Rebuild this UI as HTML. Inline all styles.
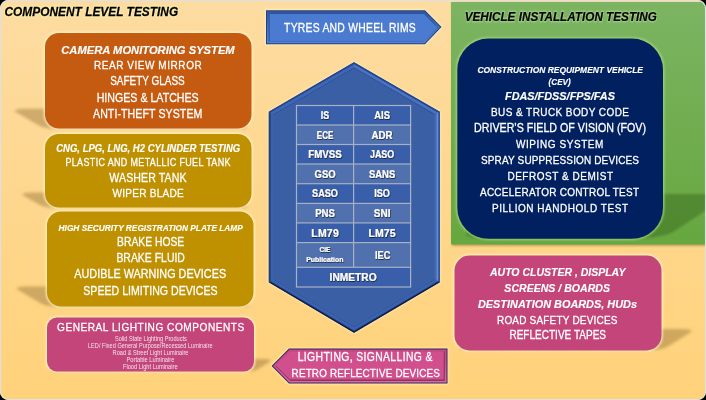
<!DOCTYPE html>
<html><head><meta charset="utf-8"><style>
html,body{margin:0;padding:0;background:#000;width:706px;height:400px;overflow:hidden}
svg{display:block;will-change:transform;font-family:"Liberation Sans", sans-serif}
</style></head><body>
<svg width="706" height="400" viewBox="0 0 706 400">
<defs>
<linearGradient id="bg" x1="0" y1="0" x2="0" y2="1"><stop offset="0" stop-color="#FDDCA2"/><stop offset="1" stop-color="#FFD27A"/></linearGradient>
<linearGradient id="gg" x1="0" y1="0" x2="0" y2="1"><stop offset="0" stop-color="#7CB462"/><stop offset="1" stop-color="#67A73F"/></linearGradient>
<linearGradient id="bab" x1="0" y1="0" x2="0" y2="1"><stop offset="0" stop-color="#3357A4"/><stop offset="0.5" stop-color="#4270C4"/><stop offset="1" stop-color="#5283D8"/></linearGradient>
<linearGradient id="pab" x1="0" y1="0" x2="0" y2="1"><stop offset="0" stop-color="#C44886"/><stop offset="0.5" stop-color="#CF5290"/><stop offset="1" stop-color="#E06AA6"/></linearGradient>
<linearGradient id="hxo" x1="0" y1="0" x2="0" y2="1"><stop offset="0" stop-color="#2A4C96"/><stop offset="0.6" stop-color="#254690"/><stop offset="1" stop-color="#0C1842"/></linearGradient>
<linearGradient id="hxb" x1="0" y1="0" x2="1" y2="0"><stop offset="0" stop-color="#3C63B0"/><stop offset="0.85" stop-color="#4670BE"/><stop offset="1" stop-color="#5C88D4"/></linearGradient>
<filter id="bl1" x="-10%" y="-30%" width="120%" height="160%"><feGaussianBlur stdDeviation="0.8"/></filter>
<filter id="bl" x="-20%" y="-50%" width="140%" height="200%"><feGaussianBlur stdDeviation="1.6"/></filter>
<filter id="ts" x="-20%" y="-30%" width="140%" height="160%"><feDropShadow dx="0.6" dy="0.8" stdDeviation="0.5" flood-color="#000" flood-opacity="0.7"/></filter>
<filter id="glow" x="-5%" y="-30%" width="110%" height="160%"><feMorphology in="SourceAlpha" operator="dilate" radius="0.8" result="d"/><feGaussianBlur in="d" stdDeviation="0.6" result="b"/><feFlood flood-color="#FFF7B0" flood-opacity="0.9"/><feComposite in2="b" operator="in" result="g"/><feMerge><feMergeNode in="g"/><feMergeNode in="SourceGraphic"/></feMerge></filter>
</defs>
<rect x="0" y="0" width="706" height="400" rx="8.5" ry="8.5" fill="url(#bg)"/>
<clipPath id="frame"><rect x="0" y="0" width="706" height="400" rx="8.5" ry="8.5"/></clipPath>
<g clip-path="url(#frame)">
<g filter="url(#bl)"><g transform="translate(0,129) matrix(1,0,1.72,1,0,0) scale(1,0.21) translate(0,-129)"><rect x="45" y="33" width="206.5" height="96" rx="14" ry="14" fill="rgba(140,105,45,0.42)"/></g></g>
<g filter="url(#bl)"><g transform="translate(0,208) matrix(1,0,1.72,1,0,0) scale(1,0.21) translate(0,-208)"><rect x="45" y="134" width="206.5" height="74" rx="14" ry="14" fill="rgba(140,105,45,0.42)"/></g></g>
<g filter="url(#bl)"><g transform="translate(0,307) matrix(1,0,1.68,1,0,0) scale(1,0.215) translate(0,-307)"><rect x="47" y="211.5" width="206.5" height="95.5" rx="14" ry="14" fill="rgba(140,105,45,0.42)"/></g></g>
<rect x="452" y="3.5" width="254" height="242.5" fill="rgba(120,90,40,0.45)" filter="url(#bl1)"/>
<rect x="451" y="2" width="255" height="242.5" fill="url(#gg)"/>
<g filter="url(#bl1)"><g transform="translate(0,238.8) matrix(1,0,-1.5,1,0,0) scale(1,0.224) translate(0,-238.8)"><rect x="457.3" y="38.6" width="205.7" height="200.20000000000002" rx="31" ry="31" fill="rgba(45,95,25,0.42)"/></g></g>
<g filter="url(#bl)"><g transform="translate(0,350.5) matrix(1,0,-1.6,1,0,0) scale(1,0.226) translate(0,-350.5)"><rect x="454.5" y="255.5" width="207.0" height="95.0" rx="15" ry="15" fill="rgba(140,105,45,0.42)"/></g></g>
<g filter="url(#bl)"><g transform="translate(0,371.5) matrix(1,0,-1.6,1,0,0) scale(1,0.23) translate(0,-371.5)"><rect x="47" y="317.5" width="207" height="54.0" rx="10" ry="10" fill="rgba(140,105,45,0.42)"/></g></g>
<rect x="45" y="33" width="206.5" height="95.5" rx="14" ry="14" fill="none" stroke="rgba(255,248,205,0.95)" stroke-width="2.2" filter="url(#bl1)"/>
<rect x="45" y="134" width="206.5" height="73.5" rx="14" ry="14" fill="none" stroke="rgba(255,248,205,0.95)" stroke-width="2.2" filter="url(#bl1)"/>
<rect x="47" y="211.5" width="206.5" height="95.0" rx="14" ry="14" fill="none" stroke="rgba(255,248,205,0.95)" stroke-width="2.2" filter="url(#bl1)"/>
<rect x="47" y="317.5" width="207" height="54.0" rx="10" ry="10" fill="none" stroke="rgba(255,248,205,0.95)" stroke-width="2.2" filter="url(#bl1)"/>
<rect x="454.5" y="255.5" width="207.0" height="95.0" rx="15" ry="15" fill="none" stroke="rgba(255,248,205,0.95)" stroke-width="2.2" filter="url(#bl1)"/>
<rect x="45" y="33" width="206.5" height="95.5" rx="14" ry="14" fill="#C55A11" />
<rect x="45" y="134" width="206.5" height="73.5" rx="14" ry="14" fill="#BF9000" />
<rect x="47" y="211.5" width="206.5" height="95.0" rx="14" ry="14" fill="#BF9000" />
<rect x="47" y="317.5" width="207" height="54.0" rx="10" ry="10" fill="#C3457A" />
<rect x="454.5" y="255.5" width="207.0" height="95.0" rx="15" ry="15" fill="#C3457A" />
<rect x="457.3" y="38.6" width="205.7" height="200.20000000000002" rx="31" ry="31" fill="none" stroke="rgba(170,220,130,0.9)" stroke-width="2.4" filter="url(#bl1)"/>
<rect x="457.3" y="38.6" width="205.7" height="200.20000000000002" rx="31" ry="31" fill="#00205F" />
<polygon points="265.10,9.30 425.38,9.30 442.75,26.99 425.38,45.10 265.10,45.10" fill="rgba(255,250,200,0.6)" filter="url(#bl1)"/>
<polygon points="266.00,10.20 425.00,10.20 441.50,27.00 425.00,44.20 266.00,44.20" fill="#22407E"/>
<polygon points="267.00,11.20 424.58,11.20 440.11,27.01 424.57,43.20 267.00,43.20" fill="url(#bab)"/>
<polygon points="268.60,12.80 423.91,12.80 437.88,27.02 423.89,41.60 268.60,41.60" fill="#2D5299"/>
<g transform="translate(0.4,0.5)"><polygon points="269.30,13.50 423.62,13.50 436.90,27.03 423.59,40.90 269.30,40.90" fill="#4B7BD1"/></g>
<polygon points="270.33,366.00 288.63,347.70 448.40,347.70 448.40,384.40 288.63,384.40" fill="rgba(255,250,200,0.6)" filter="url(#bl1)"/>
<polygon points="271.60,366.00 289.00,348.60 447.50,348.60 447.50,383.50 289.00,383.50" fill="#33235C"/>
<polygon points="273.01,366.00 289.41,349.60 446.50,349.60 446.50,382.50 289.42,382.50" fill="url(#pab)"/>
<polygon points="275.27,366.01 290.08,351.20 444.90,351.20 444.90,380.90 290.08,380.90" fill="#8C3468"/>
<g transform="translate(-0.5,-0.6)"><polygon points="276.26,366.01 290.37,351.90 444.20,351.90 444.20,380.20 290.37,380.20" fill="#D24F8D"/></g>
<polygon points="354.00,61.38 440.60,111.34 440.60,282.76 354.00,333.63 268.00,282.76 268.00,111.34" fill="rgba(255,250,200,0.5)" filter="url(#bl1)"/>
<polygon points="354.00,62.30 439.80,111.80 439.80,282.30 354.00,332.70 268.80,282.30 268.80,111.80" fill="#3A5FA5"/>
<linearGradient id="hf0" gradientUnits="userSpaceOnUse" x1="396.90" y1="87.05" x2="393.90" y2="92.25"><stop offset="0" stop-color="#1E3C88"/><stop offset="0.25" stop-color="#2A4E9C"/><stop offset="0.3" stop-color="#4570C0"/><stop offset="0.55" stop-color="#4A76C4"/><stop offset="0.7" stop-color="#4068B4"/><stop offset="0.8" stop-color="#2C4C92"/><stop offset="0.9" stop-color="#3A5FA5"/><stop offset="1" stop-color="#3A5FA5"/></linearGradient>
<polygon points="354.00,62.30 439.80,111.80 433.80,115.27 354.01,69.23" fill="url(#hf0)"/>
<linearGradient id="hf1" gradientUnits="userSpaceOnUse" x1="439.80" y1="197.05" x2="433.80" y2="197.05"><stop offset="0" stop-color="#22448F"/><stop offset="0.25" stop-color="#3A64B8"/><stop offset="0.35" stop-color="#6290D8"/><stop offset="0.5" stop-color="#5A86D0"/><stop offset="0.6" stop-color="#4469B2"/><stop offset="0.95" stop-color="#3F64AB"/><stop offset="1" stop-color="#3A5FA5"/></linearGradient>
<polygon points="439.80,111.80 439.80,282.30 433.80,278.87 433.80,115.27" fill="url(#hf1)"/>
<linearGradient id="hf2" gradientUnits="userSpaceOnUse" x1="396.90" y1="307.50" x2="393.86" y2="302.33"><stop offset="0" stop-color="#060C28"/><stop offset="0.18" stop-color="#132658"/><stop offset="0.38" stop-color="#3760AE"/><stop offset="0.72" stop-color="#3C64B2"/><stop offset="0.8" stop-color="#2F5196"/><stop offset="0.88" stop-color="#3A5FA5"/><stop offset="1" stop-color="#3A5FA5"/></linearGradient>
<polygon points="439.80,282.30 354.00,332.70 354.01,325.74 433.80,278.87" fill="url(#hf2)"/>
<linearGradient id="hf3" gradientUnits="userSpaceOnUse" x1="311.40" y1="307.50" x2="314.45" y2="302.34"><stop offset="0" stop-color="#060C28"/><stop offset="0.18" stop-color="#132658"/><stop offset="0.38" stop-color="#3760AE"/><stop offset="0.72" stop-color="#3C64B2"/><stop offset="0.8" stop-color="#2F5196"/><stop offset="0.88" stop-color="#3A5FA5"/><stop offset="1" stop-color="#3A5FA5"/></linearGradient>
<polygon points="354.00,332.70 268.80,282.30 274.80,278.88 354.01,325.74" fill="url(#hf3)"/>
<linearGradient id="hf4" gradientUnits="userSpaceOnUse" x1="268.80" y1="197.05" x2="274.80" y2="197.05"><stop offset="0" stop-color="#22386A"/><stop offset="0.3" stop-color="#2C4A88"/><stop offset="0.35" stop-color="#3A62AD"/><stop offset="0.75" stop-color="#3A62AD"/><stop offset="0.85" stop-color="#3357A0"/><stop offset="0.95" stop-color="#3A5FA5"/><stop offset="1" stop-color="#3A5FA5"/></linearGradient>
<polygon points="268.80,282.30 268.80,111.80 274.80,115.25 274.80,278.88" fill="url(#hf4)"/>
<linearGradient id="hf5" gradientUnits="userSpaceOnUse" x1="311.40" y1="87.05" x2="314.41" y2="92.24"><stop offset="0" stop-color="#1E3C88"/><stop offset="0.25" stop-color="#2A4E9C"/><stop offset="0.3" stop-color="#3D66B6"/><stop offset="0.7" stop-color="#3E66B4"/><stop offset="0.8" stop-color="#2C4C92"/><stop offset="0.9" stop-color="#3A5FA5"/><stop offset="1" stop-color="#3A5FA5"/></linearGradient>
<polygon points="268.80,111.80 354.00,62.30 354.01,69.23 274.80,115.25" fill="url(#hf5)"/>
<rect x="296.5" y="105.5" width="114.10000000000002" height="19.5" fill="#395EAA"/>
<rect x="296.5" y="125" width="114.10000000000002" height="19.5" fill="#5071AE"/>
<rect x="296.5" y="144.5" width="114.10000000000002" height="19.5" fill="#395EAA"/>
<rect x="296.5" y="164" width="114.10000000000002" height="19.69999999999999" fill="#5071AE"/>
<rect x="296.5" y="183.7" width="114.10000000000002" height="19.700000000000017" fill="#395EAA"/>
<rect x="296.5" y="203.4" width="114.10000000000002" height="19.5" fill="#5071AE"/>
<rect x="296.5" y="222.9" width="114.10000000000002" height="19.69999999999999" fill="#395EAA"/>
<rect x="296.5" y="242.6" width="114.10000000000002" height="24.700000000000017" fill="#5071AE"/>
<rect x="296.5" y="267.3" width="114.10000000000002" height="19.69999999999999" fill="#395EAA"/>
<rect x="295.9" y="104.9" width="115.30000000000003" height="1.2" fill="#A7B1C4"/>
<rect x="295.9" y="124.4" width="115.30000000000003" height="1.2" fill="#A7B1C4"/>
<rect x="295.9" y="143.9" width="115.30000000000003" height="1.2" fill="#A7B1C4"/>
<rect x="295.9" y="163.4" width="115.30000000000003" height="1.2" fill="#A7B1C4"/>
<rect x="295.9" y="183.1" width="115.30000000000003" height="1.2" fill="#A7B1C4"/>
<rect x="295.9" y="202.8" width="115.30000000000003" height="1.2" fill="#A7B1C4"/>
<rect x="295.9" y="222.3" width="115.30000000000003" height="1.2" fill="#A7B1C4"/>
<rect x="295.9" y="242.0" width="115.30000000000003" height="1.2" fill="#A7B1C4"/>
<rect x="295.9" y="266.7" width="115.30000000000003" height="1.2" fill="#A7B1C4"/>
<rect x="295.9" y="286.4" width="115.30000000000003" height="1.2" fill="#A7B1C4"/>
<rect x="295.9" y="105.5" width="1.2" height="181.5" fill="#A7B1C4"/>
<rect x="410.0" y="105.5" width="1.2" height="181.5" fill="#A7B1C4"/>
<rect x="353.0" y="105.5" width="1.2" height="161.8" fill="#A7B1C4"/>
<text transform="scale(0.8048,1)" x="398.66" y="119.2" font-size="11.05" font-weight="bold" font-style="normal" fill="#fff" textLength="10.44" lengthAdjust="spacing" filter="url(#ts)" stroke="#fff" stroke-width="0.15">IS</text>
<text transform="scale(0.8526,1)" x="438.95" y="119.2" font-size="11.05" font-weight="bold" font-style="normal" fill="#fff" textLength="18.41" lengthAdjust="spacing" filter="url(#ts)" stroke="#fff" stroke-width="0.15">AIS</text>
<text transform="scale(0.7309,1)" x="433.38" y="138.7" font-size="11.05" font-weight="bold" font-style="normal" fill="#fff" textLength="22.71" lengthAdjust="spacing" filter="url(#ts)" stroke="#fff" stroke-width="0.15">ECE</text>
<text transform="scale(0.8775,1)" x="423.47" y="138.7" font-size="11.05" font-weight="bold" font-style="normal" fill="#fff" textLength="23.93" lengthAdjust="spacing" filter="url(#ts)" stroke="#fff" stroke-width="0.15">ADR</text>
<text transform="scale(0.8804,1)" x="350.19" y="158.2" font-size="11.05" font-weight="bold" font-style="normal" fill="#fff" textLength="38.05" lengthAdjust="spacing" filter="url(#ts)" stroke="#fff" stroke-width="0.15">FMVSS</text>
<text transform="scale(0.8045,1)" x="459.90" y="158.2" font-size="11.05" font-weight="bold" font-style="normal" fill="#fff" textLength="30.08" lengthAdjust="spacing" filter="url(#ts)" stroke="#fff" stroke-width="0.15">JASO</text>
<text transform="scale(0.8553,1)" x="367.76" y="177.7" font-size="11.05" font-weight="bold" font-style="normal" fill="#fff" textLength="24.55" lengthAdjust="spacing" filter="url(#ts)" stroke="#fff" stroke-width="0.15">GSO</text>
<text transform="scale(0.8570,1)" x="430.53" y="177.7" font-size="11.05" font-weight="bold" font-style="normal" fill="#fff" textLength="30.69" lengthAdjust="spacing" filter="url(#ts)" stroke="#fff" stroke-width="0.15">SANS</text>
<text transform="scale(0.8273,1)" x="377.23" y="197.4" font-size="11.05" font-weight="bold" font-style="normal" fill="#fff" textLength="31.30" lengthAdjust="spacing" filter="url(#ts)" stroke="#fff" stroke-width="0.15">SASO</text>
<text transform="scale(0.8198,1)" x="456.59" y="197.4" font-size="11.05" font-weight="bold" font-style="normal" fill="#fff" textLength="19.03" lengthAdjust="spacing" filter="url(#ts)" stroke="#fff" stroke-width="0.15">ISO</text>
<text transform="scale(0.8674,1)" x="363.40" y="217.1" font-size="11.05" font-weight="bold" font-style="normal" fill="#fff" textLength="22.71" lengthAdjust="spacing" filter="url(#ts)" stroke="#fff" stroke-width="0.15">PNS</text>
<text transform="scale(0.9015,1)" x="414.65" y="217.1" font-size="11.05" font-weight="bold" font-style="normal" fill="#fff" textLength="18.41" lengthAdjust="spacing" filter="url(#ts)" stroke="#fff" stroke-width="0.15">SNI</text>
<text transform="scale(0.9500,1)" x="327.74" y="236.6" font-size="11.05" font-weight="bold" font-style="normal" fill="#fff" textLength="28.84" lengthAdjust="spacing" filter="url(#ts)" stroke="#fff" stroke-width="0.15">LM79</text>
<text transform="scale(0.9500,1)" x="388.00" y="236.6" font-size="11.05" font-weight="bold" font-style="normal" fill="#fff" textLength="28.42" lengthAdjust="spacing" filter="url(#ts)" stroke="#fff" stroke-width="0.15">LM75</text>
<text transform="scale(0.8902,1)" x="358.91" y="252.5" font-size="7.41" font-weight="bold" font-style="normal" fill="#fff" textLength="12.36" lengthAdjust="spacing" filter="url(#ts)" stroke="#fff" stroke-width="0.15">CIE</text>
<text transform="scale(0.8961,1)" x="341.72" y="261.9" font-size="7.70" font-weight="bold" font-style="normal" fill="#fff" textLength="41.51" lengthAdjust="spacing" filter="url(#ts)" stroke="#fff" stroke-width="0.15">Publication</text>
<text transform="scale(0.8363,1)" x="448.40" y="259.0" font-size="11.05" font-weight="bold" font-style="normal" fill="#fff" textLength="18.41" lengthAdjust="spacing" filter="url(#ts)" stroke="#fff" stroke-width="0.15">IEC</text>
<text transform="scale(0.8991,1)" x="366.58" y="280.9" font-size="11.34" font-weight="bold" font-style="normal" fill="#fff" textLength="52.27" lengthAdjust="spacing" filter="url(#ts)" stroke="#fff" stroke-width="0.15">INMETRO</text>
<text transform="scale(0.9867,1)" x="62.12" y="53.6" font-size="11.34" font-weight="bold" font-style="italic" fill="#fff" textLength="175.73" lengthAdjust="spacing"  stroke="#fff" stroke-width="0.15">CAMERA MONITORING SYSTEM</text>
<text transform="scale(0.8600,1)" x="109.19" y="69.4" font-size="11.63" font-weight="normal" font-style="normal" fill="#fff" textLength="125.35" lengthAdjust="spacing"  stroke="#fff" stroke-width="0.3">REAR VIEW MIRROR</text>
<text transform="scale(0.8057,1)" x="136.77" y="85.5" font-size="12.35" font-weight="normal" font-style="normal" fill="#fff" textLength="92.46" lengthAdjust="spacing"  stroke="#fff" stroke-width="0.3">SAFETY GLASS</text>
<text transform="scale(0.8505,1)" x="113.70" y="101.6" font-size="12.50" font-weight="normal" font-style="normal" fill="#fff" textLength="119.93" lengthAdjust="spacing"  stroke="#fff" stroke-width="0.3">HINGES &amp; LATCHES</text>
<text transform="scale(0.8600,1)" x="108.14" y="117.7" font-size="12.35" font-weight="normal" font-style="normal" fill="#fff" textLength="127.21" lengthAdjust="spacing"  stroke="#fff" stroke-width="0.3">ANTI-THEFT SYSTEM</text>
<text transform="scale(0.9354,1)" x="60.08" y="151.8" font-size="10.17" font-weight="bold" font-style="italic" fill="#fff" textLength="196.72" lengthAdjust="spacing"  stroke="#fff" stroke-width="0.15">CNG, LPG, LNG, H2 CYLINDER TESTING</text>
<text transform="scale(0.8600,1)" x="76.05" y="166.0" font-size="10.47" font-weight="normal" font-style="normal" fill="#fff" textLength="191.98" lengthAdjust="spacing"  stroke="#fff" stroke-width="0.3">PLASTIC AND METALLIC FUEL TANK</text>
<text transform="scale(0.8600,1)" x="127.09" y="181.9" font-size="12.35" font-weight="normal" font-style="normal" fill="#fff" textLength="89.88" lengthAdjust="spacing"  stroke="#fff" stroke-width="0.3">WASHER TANK</text>
<text transform="scale(0.8600,1)" x="130.93" y="197.3" font-size="11.77" font-weight="normal" font-style="normal" fill="#fff" textLength="82.79" lengthAdjust="spacing"  stroke="#fff" stroke-width="0.3">WIPER BLADE</text>
<text transform="scale(0.8533,1)" x="68.68" y="231.2" font-size="9.74" font-weight="bold" font-style="italic" fill="#fff" textLength="215.87" lengthAdjust="spacing"  stroke="#fff" stroke-width="0.15">HIGH SECURITY REGISTRATION PLATE LAMP</text>
<text transform="scale(0.8353,1)" x="140.18" y="246.5" font-size="12.35" font-weight="normal" font-style="normal" fill="#fff" textLength="80.33" lengthAdjust="spacing"  stroke="#fff" stroke-width="0.3">BRAKE HOSE</text>
<text transform="scale(0.8358,1)" x="139.28" y="262.3" font-size="12.50" font-weight="normal" font-style="normal" fill="#fff" textLength="81.96" lengthAdjust="spacing"  stroke="#fff" stroke-width="0.3">BRAKE FLUID</text>
<text transform="scale(0.8465,1)" x="87.78" y="278.5" font-size="12.79" font-weight="normal" font-style="normal" fill="#fff" textLength="179.34" lengthAdjust="spacing"  stroke="#fff" stroke-width="0.3">AUDIBLE WARNING DEVICES</text>
<text transform="scale(0.8103,1)" x="102.80" y="295.0" font-size="13.08" font-weight="normal" font-style="normal" fill="#fff" textLength="165.73" lengthAdjust="spacing"  stroke="#fff" stroke-width="0.3">SPEED LIMITING DEVICES</text>
<text transform="scale(0.8600,1)" x="66.40" y="331.5" font-size="11.77" font-weight="normal" font-style="normal" fill="#fff" textLength="217.56" lengthAdjust="spacing"  stroke="#fff" stroke-width="0.3">GENERAL LIGHTING COMPONENTS</text>
<text transform="scale(0.8196,1)" x="140.19" y="341.4" font-size="6.83" font-weight="normal" font-style="normal" fill="#F4E4EC" textLength="87.72" lengthAdjust="spacing"  stroke="#F4E4EC" stroke-width="0">Solid State Lighting Products</text>
<text transform="scale(0.8123,1)" x="108.34" y="348.5" font-size="6.83" font-weight="normal" font-style="normal" fill="#F4E4EC" textLength="153.40" lengthAdjust="spacing"  stroke="#F4E4EC" stroke-width="0">LED/ Fixed General Purpose/Recessed  Luminaire</text>
<text transform="scale(0.8294,1)" x="135.77" y="355.1" font-size="6.83" font-weight="normal" font-style="normal" fill="#F4E4EC" textLength="91.51" lengthAdjust="spacing"  stroke="#F4E4EC" stroke-width="0">Road &amp; Street Light Luminaire</text>
<text transform="scale(0.8354,1)" x="151.43" y="362.2" font-size="6.83" font-weight="normal" font-style="normal" fill="#F4E4EC" textLength="57.34" lengthAdjust="spacing"  stroke="#F4E4EC" stroke-width="0">Portable Luminaire</text>
<text transform="scale(0.8311,1)" x="147.99" y="369.3" font-size="6.83" font-weight="normal" font-style="normal" fill="#F4E4EC" textLength="65.69" lengthAdjust="spacing"  stroke="#F4E4EC" stroke-width="0">Flood Light Luminaire</text>
<text transform="scale(0.8600,1)" x="330.35" y="31.8" font-size="12.06" font-weight="normal" font-style="normal" fill="#fff" textLength="153.02" lengthAdjust="spacing"  stroke="#fff" stroke-width="0.3">TYRES AND WHEEL RIMS</text>
<text transform="scale(0.8600,1)" x="346.16" y="361.4" font-size="12.06" font-weight="normal" font-style="normal" fill="#fff" textLength="156.63" lengthAdjust="spacing"  stroke="#fff" stroke-width="0.3">LIGHTING, SIGNALLING &amp;</text>
<text transform="scale(0.8600,1)" x="339.07" y="376.9" font-size="11.48" font-weight="normal" font-style="normal" fill="#fff" textLength="172.33" lengthAdjust="spacing"  stroke="#fff" stroke-width="0.3">RETRO REFLECTIVE DEVICES</text>
<text transform="scale(0.8802,1)" x="542.36" y="72.6" font-size="9.59" font-weight="bold" font-style="italic" fill="#fff" textLength="188.13" lengthAdjust="spacing"  stroke="#fff" stroke-width="0.15">CONSTRUCTION REQUIPMENT VEHICLE</text>
<text transform="scale(0.8425,1)" x="651.18" y="84.6" font-size="9.59" font-weight="bold" font-style="italic" fill="#fff" textLength="26.11" lengthAdjust="spacing"  stroke="#fff" stroke-width="0.15">(CEV)</text>
<text transform="scale(0.9355,1)" x="539.81" y="100.0" font-size="11.63" font-weight="bold" font-style="italic" fill="#fff" textLength="117.58" lengthAdjust="spacing"  stroke="#fff" stroke-width="0.15">FDAS/FDSS/FPS/FAS</text>
<text transform="scale(0.8600,1)" x="570.93" y="116.0" font-size="11.63" font-weight="normal" font-style="normal" fill="#fff" textLength="160.47" lengthAdjust="spacing"  stroke="#fff" stroke-width="0.3">BUS &amp; TRUCK BODY CODE</text>
<text transform="scale(0.8540,1)" x="555.05" y="131.6" font-size="12.50" font-weight="normal" font-style="normal" fill="#fff" textLength="201.41" lengthAdjust="spacing"  stroke="#fff" stroke-width="0.3">DRIVER’S FIELD OF VISION (FOV)</text>
<text transform="scale(0.8600,1)" x="600.00" y="148.0" font-size="11.63" font-weight="normal" font-style="normal" fill="#fff" textLength="101.63" lengthAdjust="spacing"  stroke="#fff" stroke-width="0.3">WIPING SYSTEM</text>
<text transform="scale(0.8600,1)" x="559.30" y="164.0" font-size="11.63" font-weight="normal" font-style="normal" fill="#fff" textLength="183.72" lengthAdjust="spacing"  stroke="#fff" stroke-width="0.3">SPRAY SUPPRESSION DEVICES</text>
<text transform="scale(0.8600,1)" x="590.00" y="180.0" font-size="11.63" font-weight="normal" font-style="normal" fill="#fff" textLength="122.79" lengthAdjust="spacing"  stroke="#fff" stroke-width="0.3">DEFROST &amp; DEMIST</text>
<text transform="scale(0.8600,1)" x="558.14" y="196.0" font-size="11.63" font-weight="normal" font-style="normal" fill="#fff" textLength="184.88" lengthAdjust="spacing"  stroke="#fff" stroke-width="0.3">ACCELERATOR CONTROL TEST</text>
<text transform="scale(0.8600,1)" x="572.09" y="212.0" font-size="11.63" font-weight="normal" font-style="normal" fill="#fff" textLength="158.14" lengthAdjust="spacing"  stroke="#fff" stroke-width="0.3">PILLION HANDHOLD TEST</text>
<text transform="scale(0.9496,1)" x="516.01" y="275.6" font-size="11.05" font-weight="bold" font-style="italic" fill="#fff" textLength="142.59" lengthAdjust="spacing"  stroke="#fff" stroke-width="0.15">AUTO CLUSTER , DISPLAY</text>
<text transform="scale(0.9080,1)" x="555.48" y="291.6" font-size="11.63" font-weight="bold" font-style="italic" fill="#fff" textLength="116.29" lengthAdjust="spacing"  stroke="#fff" stroke-width="0.15">SCREENS / BOARDS</text>
<text transform="scale(0.9370,1)" x="510.12" y="307.6" font-size="11.63" font-weight="bold" font-style="italic" fill="#fff" textLength="169.69" lengthAdjust="spacing"  stroke="#fff" stroke-width="0.15">DESTINATION BOARDS, HUDs</text>
<text transform="scale(0.8600,1)" x="577.91" y="323.6" font-size="11.63" font-weight="normal" font-style="normal" fill="#fff" textLength="140.00" lengthAdjust="spacing"  stroke="#fff" stroke-width="0.3">ROAD SAFETY DEVICES</text>
<text transform="scale(0.8118,1)" x="627.52" y="339.4" font-size="12.35" font-weight="normal" font-style="normal" fill="#fff" textLength="119.00" lengthAdjust="spacing"  stroke="#fff" stroke-width="0.3">REFLECTIVE TAPES</text>
<text transform="scale(0.8901,1)" x="5.06" y="16.0" font-size="13.37" font-weight="bold" font-style="italic" fill="#FFF6B0" textLength="195.14" lengthAdjust="spacing" filter="url(#bl1)" opacity="0.9" stroke="#FFF6B0" stroke-width="1.6">COMPONENT LEVEL TESTING</text>
<text transform="scale(0.8901,1)" x="5.06" y="16.0" font-size="13.37" font-weight="bold" font-style="italic" fill="#000" textLength="195.14" lengthAdjust="spacing"  stroke="#000" stroke-width="0.25">COMPONENT LEVEL TESTING</text>
<text transform="scale(0.8574,1)" x="541.98" y="21.4" font-size="13.66" font-weight="bold" font-style="italic" fill="#B8E09A" textLength="224.16" lengthAdjust="spacing" filter="url(#bl1)" opacity="0.8" stroke="#B8E09A" stroke-width="1.6">VEHICLE INSTALLATION TESTING</text>
<text transform="scale(0.8574,1)" x="541.98" y="21.4" font-size="13.66" font-weight="bold" font-style="italic" fill="#000" textLength="224.16" lengthAdjust="spacing"  stroke="#000" stroke-width="0.25">VEHICLE INSTALLATION TESTING</text>
</g>
<rect x="0.5" y="0.5" width="705" height="399" rx="8" ry="8" fill="none" stroke="#DCE1E8" stroke-width="1.1"/>
</svg>
</body></html>
